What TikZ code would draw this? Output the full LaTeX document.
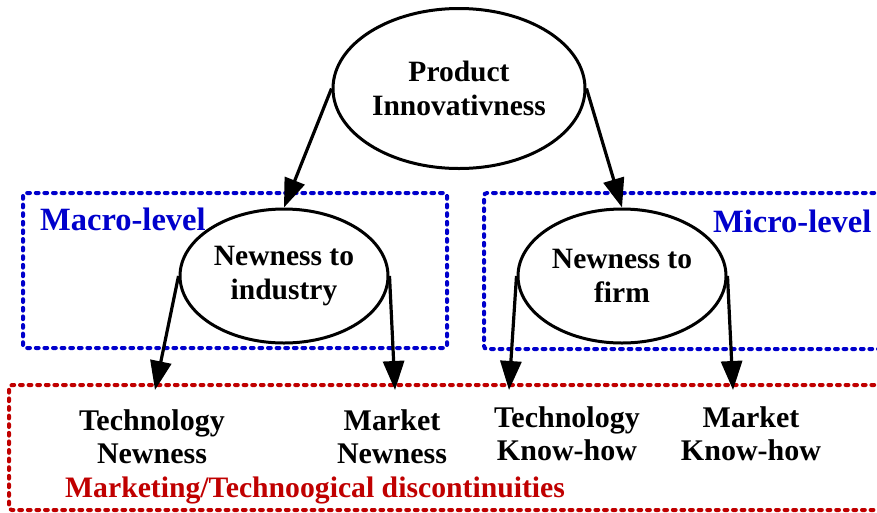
\documentclass[tikz,border=0pt]{standalone}
\usepackage{fontspec}
\setmainfont{Liberation Serif}
\usetikzlibrary{shapes.geometric,arrows.meta}
\definecolor{boxblue}{HTML}{0000CC}
\definecolor{boxred}{HTML}{C00000}
\tikzset{
  oval/.style={ellipse,draw=black,line width=3pt,inner sep=0pt,align=center,
    font=\fontsize{29.5}{34}\selectfont\bfseries},
  conn/.style={line width=3.2pt,-{Triangle[length=29pt,width=21pt]}},
  dotbox/.style={line width=4pt,line cap=round,dash pattern=on 2.8pt off 5.8pt,rounded corners=3pt},
  leaf/.style={align=center,font=\fontsize{30}{33}\selectfont\bfseries,inner sep=0pt},
  levellabel/.style={text=boxblue,font=\fontsize{32.5}{36}\selectfont\bfseries,inner sep=0pt,anchor=base west},
}
\begin{document}
\begin{tikzpicture}[x=1pt,y=-1pt]
\useasboundingbox (0,0) rectangle (877,512);
\fill[white] (0,0) rectangle (877,512);
\clip (0,0) rectangle (877,512);

% dotted boxes
\draw[dotbox,draw=boxblue] (23,193) rectangle (447,348);
\draw[dotbox,draw=boxblue] (900,193) -- (484,193) -- (484,349) -- (900,349);
\draw[dotbox,draw=boxred] (900,385) -- (9,385) -- (9,510) -- (900,510);

% labels
\node[levellabel] (macro) at (40,230) {Macro-level};
\node[levellabel] (micro) at (713,232) {Micro-level};
\node[text=boxred,font=\fontsize{29.7}{33}\selectfont\bfseries,inner sep=0pt,anchor=base west] (disc) at (65,497) {Marketing/Technoogical discontinuities};

% ellipses
\node[oval,minimum width=252pt,minimum height=160pt] (top) at (459,88.5) {Product\\Innovativness};
\node[oval,minimum width=208pt,minimum height=134pt] (ind) at (284,276) {Newness to\\industry};
\node[oval,minimum width=208pt,minimum height=134pt] (firm) at (622,276) {Newness to\\firm};

% leaves
\node[leaf] (tn) at (152,437) {Technology\\Newness};
\node[leaf] (mn) at (392,437) {Market\\Newness};
\node[leaf] (tk) at (567,434) {Technology\\Know-how};
\node[leaf] (mk) at (751,434) {Market\\Know-how};

\coordinate (tnT) at (155,390);
\coordinate (mnT) at (395,390);
\coordinate (tkT) at (509,390);
\coordinate (mkT) at (733,390);

% connectors
\draw[conn] (top.west) -- (ind.north);
\draw[conn] (top.east) -- (firm.north);
\draw[conn] (ind.west) -- (tnT);
\draw[conn] (ind.east) -- (mnT);
\draw[conn] (firm.west) -- (tkT);
\draw[conn] (firm.east) -- (mkT);
\end{tikzpicture}
\end{document}
